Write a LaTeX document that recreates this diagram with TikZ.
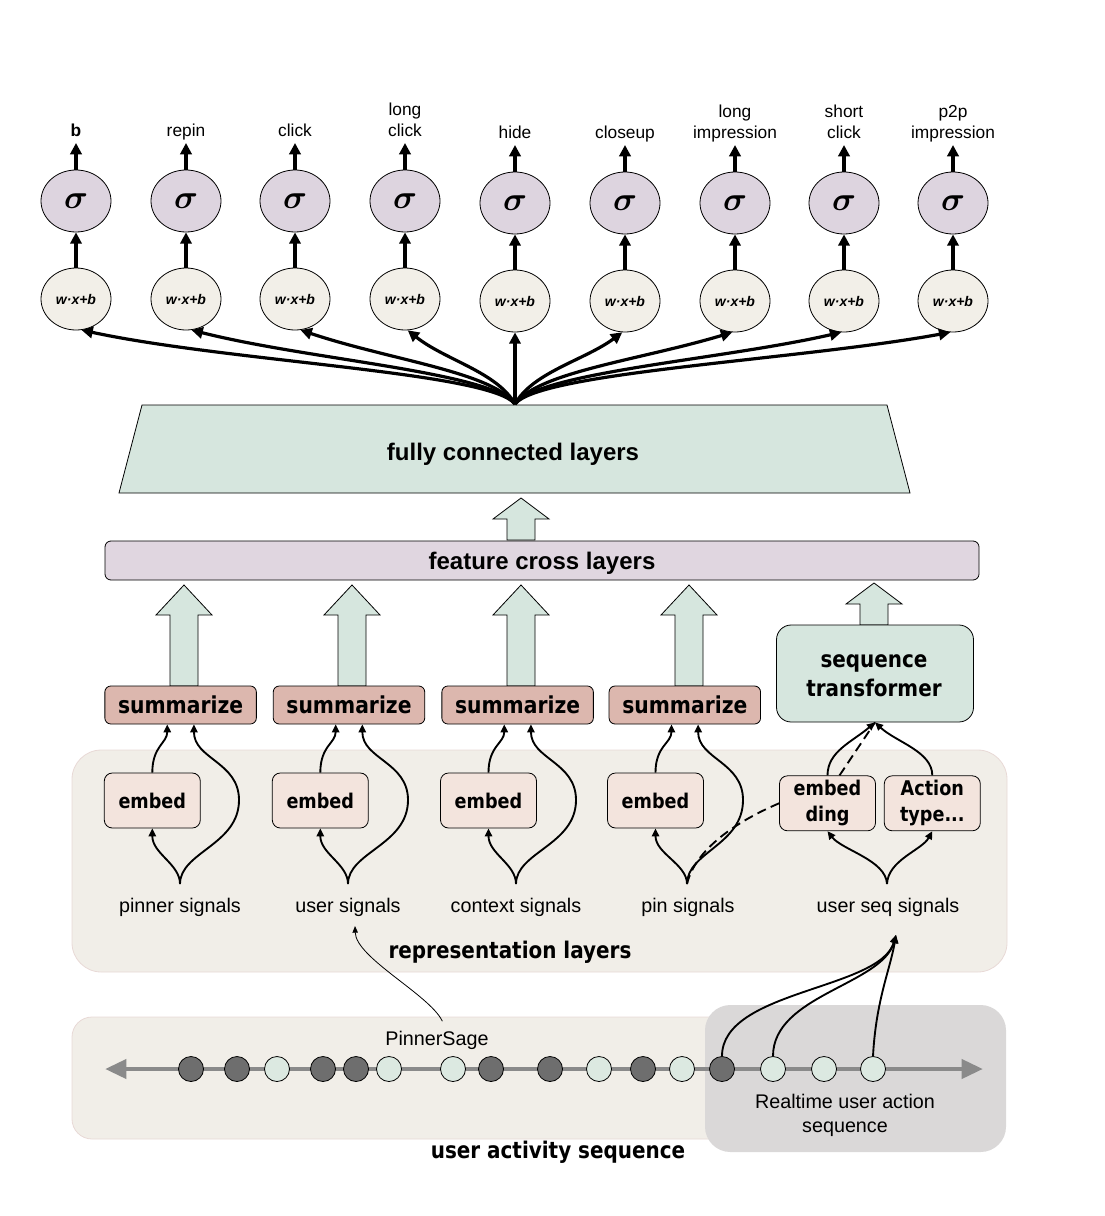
\documentclass[tikz,border=0pt]{standalone}
\usepackage{fontspec}
\setmainfont{Liberation Sans}
\newfontfamily\vfont[FakeStretch=0.87]{DejaVu Sans}
\usetikzlibrary{arrows.meta,shapes.geometric}
\definecolor{sigfill}{HTML}{DDD4DF}
\definecolor{wxfill}{HTML}{F2EFE8}
\definecolor{mint}{HTML}{D6E6DE}
\definecolor{lav}{HTML}{E0D6E0}
\definecolor{rose}{HTML}{DCB7AE}
\definecolor{beige}{HTML}{F1EEE8}
\definecolor{bgedge}{HTML}{E8D9D6}
\definecolor{embfill}{HTML}{F3E4DD}
\definecolor{greybox}{HTML}{DAD8D8}
\definecolor{dotdark}{HTML}{6E6E6E}
\definecolor{dotlight}{HTML}{DCE9E1}
\definecolor{tlgrey}{HTML}{8A8A8A}
\newcommand\fatarr[4]{%
  \filldraw[fill=mint,draw=black,line width=0.6pt] (#1,#2) -- (#1+28,#3) -- (#1+14,#3) -- (#1+14,#4) -- (#1-14,#4) -- (#1-14,#3) -- (#1-28,#3) -- cycle;}
\begin{document}
\begin{tikzpicture}[x=0.75pt,y=-0.75pt,
  arr/.style={line width=2.4pt,-{Triangle[length=8.5pt,width=8.5pt]}},
  sarr/.style={line width=1.4pt,-{Triangle[length=6pt,width=5.5pt]}},
  toplab/.style={font=\fontsize{13}{15.75}\selectfont,align=center,inner sep=1pt,text depth=3.5pt,anchor=south},
  sig/.style={ellipse,draw,line width=0.6pt,fill=sigfill,minimum width=70*0.75pt,minimum height=62*0.75pt,inner sep=0pt,font=\fontsize{23}{24}\selectfont\boldmath},
  wxb/.style={ellipse,draw,line width=0.6pt,fill=wxfill,minimum width=70*0.75pt,minimum height=62*0.75pt,inner sep=0pt,font=\fontsize{10.5}{12}\selectfont\bfseries\itshape},
  abold/.style={font=\fontsize{18}{22}\selectfont\bfseries},
  sumbox/.style={draw,line width=0.6pt,fill=rose,rounded corners=4.5pt,minimum width=151.5*0.75pt,minimum height=38*0.75pt,inner sep=0pt,font=\vfont\bfseries\fontsize{17.5}{20}\selectfont},
  embbox/.style={draw,line width=0.6pt,fill=embfill,rounded corners=6pt,minimum width=96*0.75pt,minimum height=55*0.75pt,inner sep=0pt,align=center,font=\vfont\bfseries\fontsize{15.2}{19.5}\selectfont},
  siglab/.style={font=\fontsize{14.8}{17}\selectfont,anchor=base,inner sep=1pt},
  vbold/.style={font=\vfont\bfseries\fontsize{17.2}{21.75}\selectfont,align=center,inner sep=1pt},
  dotc/.style={circle,draw,line width=0.6pt,minimum size=25*0.75pt,inner sep=0pt},
]
\useasboundingbox (0,0) rectangle (1105,1216);
% ---------- backgrounds
\filldraw[fill=beige,draw=bgedge,line width=0.6pt,rounded corners=22pt] (72,750) rectangle (1007,972);
\filldraw[fill=beige,draw=bgedge,line width=0.6pt,rounded corners=15pt] (72,1017) rectangle (1000,1139);
\fill[greybox,rounded corners=19pt] (705,1005) rectangle (1006,1152);
% ---------- top columns
\foreach \i/\x/\dy in {1/76/0,2/186/0,3/295/0,4/405/0,5/515/2,6/625/2,7/735/2,8/844/2,9/953/2}{
  \node[sig] (sg\i) at (\x,201+\dy) {$\sigma$};
  \node[wxb] (w\i) at (\x,299+\dy) {w·x+b};
  \draw[arr] (w\i) -- (sg\i);
}
\node[toplab] (l1) at (76,143) {\bfseries b};
\node[toplab] (l2) at (186,143) {repin};
\node[toplab] (l3) at (295,143) {click};
\node[toplab] (l4) at (405,143) {long\\click};
\node[toplab] (l5) at (515,145) {hide};
\node[toplab] (l6) at (625,145) {closeup};
\node[toplab] (l7) at (735,145) {long\\impression};
\node[toplab] (l8) at (844,145) {short\\click};
\node[toplab] (l9) at (953,145) {p2p\\impression};
\foreach \i in {1,...,9}{\draw[arr] (sg\i) -- (l\i.south);}
% ---------- fully connected layers
\filldraw[fill=mint,draw=black,line width=0.6pt] (142,405) -- (887,405) -- (910,493) -- (119,493) -- cycle;
\node[abold] (fc) at (513,454) {fully connected layers};
\coordinate (fan) at (515,404);
\draw[arr] (fan) .. controls (490,372) and (230,362) .. (w1.-80);
\draw[arr] (fan) .. controls (490,372) and (310,360) .. (w2.-80);
\draw[arr] (fan) .. controls (492,372) and (390,360) .. (w3.-80);
\draw[arr] (fan) .. controls (497,372) and (445,360) .. (w4.-85);
\draw[arr] (fan) -- (w5.south);
\draw[arr] (fan) .. controls (533,372) and (585,360) .. (w6.-95);
\draw[arr] (fan) .. controls (538,372) and (640,360) .. (w7.-95);
\draw[arr] (fan) .. controls (540,372) and (720,360) .. (w8.-95);
\draw[arr] (fan) .. controls (540,372) and (800,360) .. (w9.-95);
% ---------- feature cross
\fatarr{521}{498}{519}{540}
\node[draw,line width=0.6pt,fill=lav,rounded corners=4.5pt,minimum width=874*0.75pt,minimum height=39*0.75pt,inner sep=0pt,abold] (fcl) at (542,560.5) {};
\node[abold] (fct) at (542,563) {feature cross layers};
% ---------- summarize / transformer
\fatarr{184}{585}{615}{686}
\fatarr{352}{585}{615}{686}
\fatarr{521}{585}{615}{686}
\fatarr{689}{585}{615}{686}
\fatarr{874}{583}{604}{625}
\node[sumbox] (s1) at (180.6,705) {summarize};
\node[sumbox] (s2) at (349,705) {summarize};
\node[sumbox] (s3) at (517.6,705) {summarize};
\node[sumbox] (s4) at (684.8,705) {summarize};
\node[draw,line width=0.6pt,fill=mint,rounded corners=11pt,minimum width=197*0.75pt,minimum height=97*0.75pt,inner sep=0pt] (T) at (875,673.5) {};
\node[vbold] (Tt) at (874,676) {sequence\\transformer};
% ---------- representation layers
\node[embbox] (e1) at (152.3,800.5) {embed};
\node[embbox] (e2) at (320.3,800.5) {embed};
\node[embbox] (e3) at (488.5,800.5) {embed};
\node[embbox] (e4) at (655.5,800.5) {embed};
\node[embbox] (ED) at (827.5,803.3) {embed\\ding};
\node[embbox] (AT) at (932.3,803.3) {Action\\type...};
\node[siglab] (g1) at (180,912) {pinner signals};
\node[siglab] (g2) at (348,912) {user signals};
\node[siglab] (g3) at (516,912) {context signals};
\node[siglab] (g4) at (688,912) {pin signals};
\node[siglab] (g5) at (888,912) {user seq signals};
\node[vbold] (rl) at (510,952) {representation layers};
\coordinate (f1) at (180,884);
\coordinate (f2) at (348,884);
\coordinate (f3) at (516,884);
\coordinate (f4) at (687,884);
\coordinate (f5) at (887,884);
\foreach \i/\fx/\rx in {1/180/59,2/348/60,3/516/60,4/687/56}{
  \draw[sarr] (f\i) .. controls (\fx,864) and ([yshift=-19pt]e\i.south) .. (e\i.south);
  \draw[sarr] (f\i) .. controls (\fx,852) and (\fx+\rx,845) .. (\fx+\rx,800) .. controls (\fx+\rx,762) and ([xshift=10pt,yshift=-26pt]s\i.south) .. ([xshift=10pt]s\i.south);
  \draw[sarr] (e\i.north) .. controls ([yshift=20pt]e\i.north) and ([xshift=-10pt,yshift=-14pt]s\i.south) .. ([xshift=-10pt]s\i.south);
}
\draw[line width=1.4pt,dash pattern=on 7pt off 4pt] (f4) .. controls (695,850) and (735,822) .. (ED.west);
\draw[line width=1.4pt,dash pattern=on 7pt off 4pt] ([xshift=9pt]ED.north) -- (T.south);
\draw[sarr] (ED.north) .. controls ([yshift=18pt]ED.north) and (852,742) .. (T.south);
\draw[sarr] (AT.north) .. controls ([yshift=18pt]AT.north) and (896,742) .. (T.south);
\draw[sarr] (f5) .. controls (886,860) and (842,850) .. (ED.south);
\draw[sarr] (f5) .. controls (888,860) and (922,850) .. (AT.south);
% ---------- user activity sequence
\coordinate (tl) at (105,1069);
\coordinate (tr) at (983,1069);
\draw[tlgrey,line width=3.6pt,{Triangle[length=16pt,width=14pt]}-{Triangle[length=16pt,width=14pt]}] (tl) -- (tr);
\foreach \i/\x/\c in {1/191/dotdark,2/237/dotdark,3/277/dotlight,4/323/dotdark,5/356/dotdark,6/389/dotlight,7/453/dotlight,8/491/dotdark,9/550/dotdark,10/599/dotlight,11/643/dotdark,12/682/dotlight,13/722/dotdark,14/773/dotlight,15/824/dotlight,16/873/dotlight}{
  \node[dotc,fill=\c] (c\i) at (\x,1069) {};
}
\node[font=\fontsize{14.8}{17}\selectfont,inner sep=1pt] (ps) at (437,1040) {PinnerSage};
\node[font=\fontsize{14.8}{18}\selectfont,align=center,inner sep=1pt] (rua) at (845,1115) {Realtime user action\\sequence};
\node[vbold] (uas) at (558,1152) {user activity sequence};
\coordinate (rt) at (896,935);
\draw[sarr] (c13.north) .. controls (722,990) and (880,990) .. (rt);
\draw[sarr] (c14.north) .. controls (773,995) and (882,985) .. (rt);
\draw[sarr] (c16.north) .. controls (876,1000) and (890,970) .. (rt);
\coordinate (ust) at (355,926);
\draw[line width=0.6pt,-{Triangle[length=5pt,width=4pt]}] ([xshift=4pt,yshift=6pt]ps.north) .. controls (430,995) and (356,958) .. (ust);
\end{tikzpicture}
\end{document}
